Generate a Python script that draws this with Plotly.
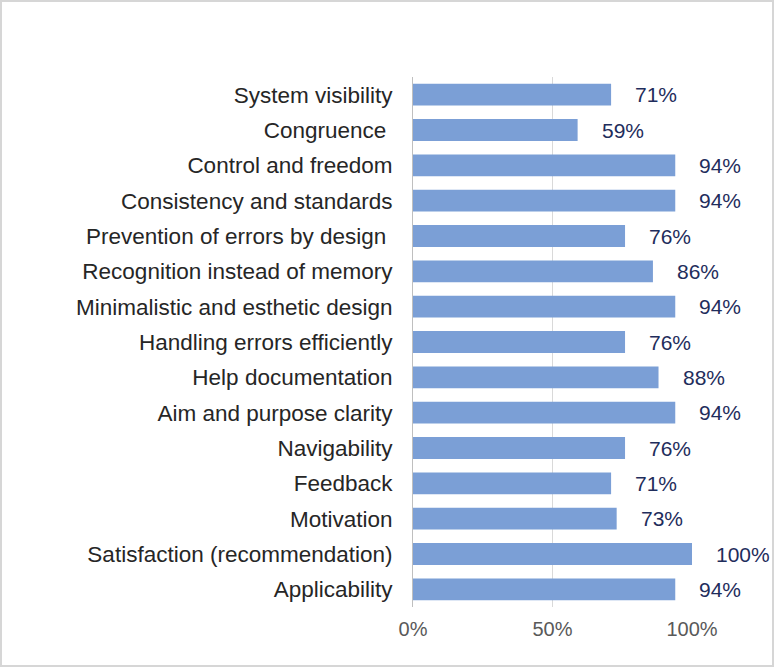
import plotly.graph_objects as go

categories = [
    "System visibility", "Congruence ", "Control and freedom", "Consistency and standards",
    "Prevention of errors by design ", "Recognition instead of memory",
    "Minimalistic and esthetic design", "Handling errors efficiently", "Help documentation",
    "Aim and purpose clarity", "Navigability", "Feedback", "Motivation",
    "Satisfaction (recommendation)", "Applicability",
]
values = [0.71, 0.59, 0.94, 0.94, 0.76, 0.86, 0.94, 0.76, 0.88, 0.94, 0.76, 0.71, 0.73, 1.00, 0.94]
labels = ["71%", "59%", "94%", "94%", "76%", "86%", "94%", "76%", "88%", "94%", "76%", "71%", "73%", "100%", "94%"]
x_ticks = [0, 0.5, 1.0]
x_ticklabels = ["0%", "50%", "100%"]

W, H = 774, 667
L, R, T, B = 413, 82, 77, 60
pw, ph = W - L - R, H - T - B

fig = go.Figure(go.Bar(
    y=categories, x=values, orientation="h",
    marker=dict(color="#7b9fd6", line=dict(width=0)),
    hoverinfo="skip",
))

for c, v, t in zip(categories, values, labels):
    fig.add_annotation(x=v, y=c, text=t, xanchor="left", xshift=22, showarrow=False,
                       font=dict(family="Liberation Sans, Arial", size=21, color="#1f2d5c"))

fig.add_shape(type="rect", xref="paper", yref="paper",
              x0=(1 - L) / pw, x1=1 + (R - 1) / pw, y0=-(B - 1) / ph, y1=1 + (T - 1) / ph,
              line=dict(color="#d6d6d6", width=2), layer="below")

fig.update_layout(
    width=W, height=H, margin=dict(l=L, r=R, t=T, b=B),
    plot_bgcolor="white", paper_bgcolor="white",
    bargap=0.38, showlegend=False,
    font=dict(family="Liberation Sans, Arial", color="#262626"),
    xaxis=dict(range=[0, 1.0], tickvals=x_ticks, ticktext=x_ticklabels,
               showgrid=True, gridcolor="#d9d9d9", gridwidth=1, zeroline=False,
               showline=False, tickfont=dict(size=20, color="#595959"), ticklabelstandoff=8),
    yaxis=dict(categoryorder="array", categoryarray=categories, autorange="reversed",
               showline=True, linecolor="#bfbfbf", linewidth=1, showgrid=False,
               tickfont=dict(size=22.5, color="#262626"), ticklabelstandoff=15),
)

fig.write_html("out.html", config={"displayModeBar": False},
               post_script="document.body.style.margin='0';document.body.style.padding='0';")
